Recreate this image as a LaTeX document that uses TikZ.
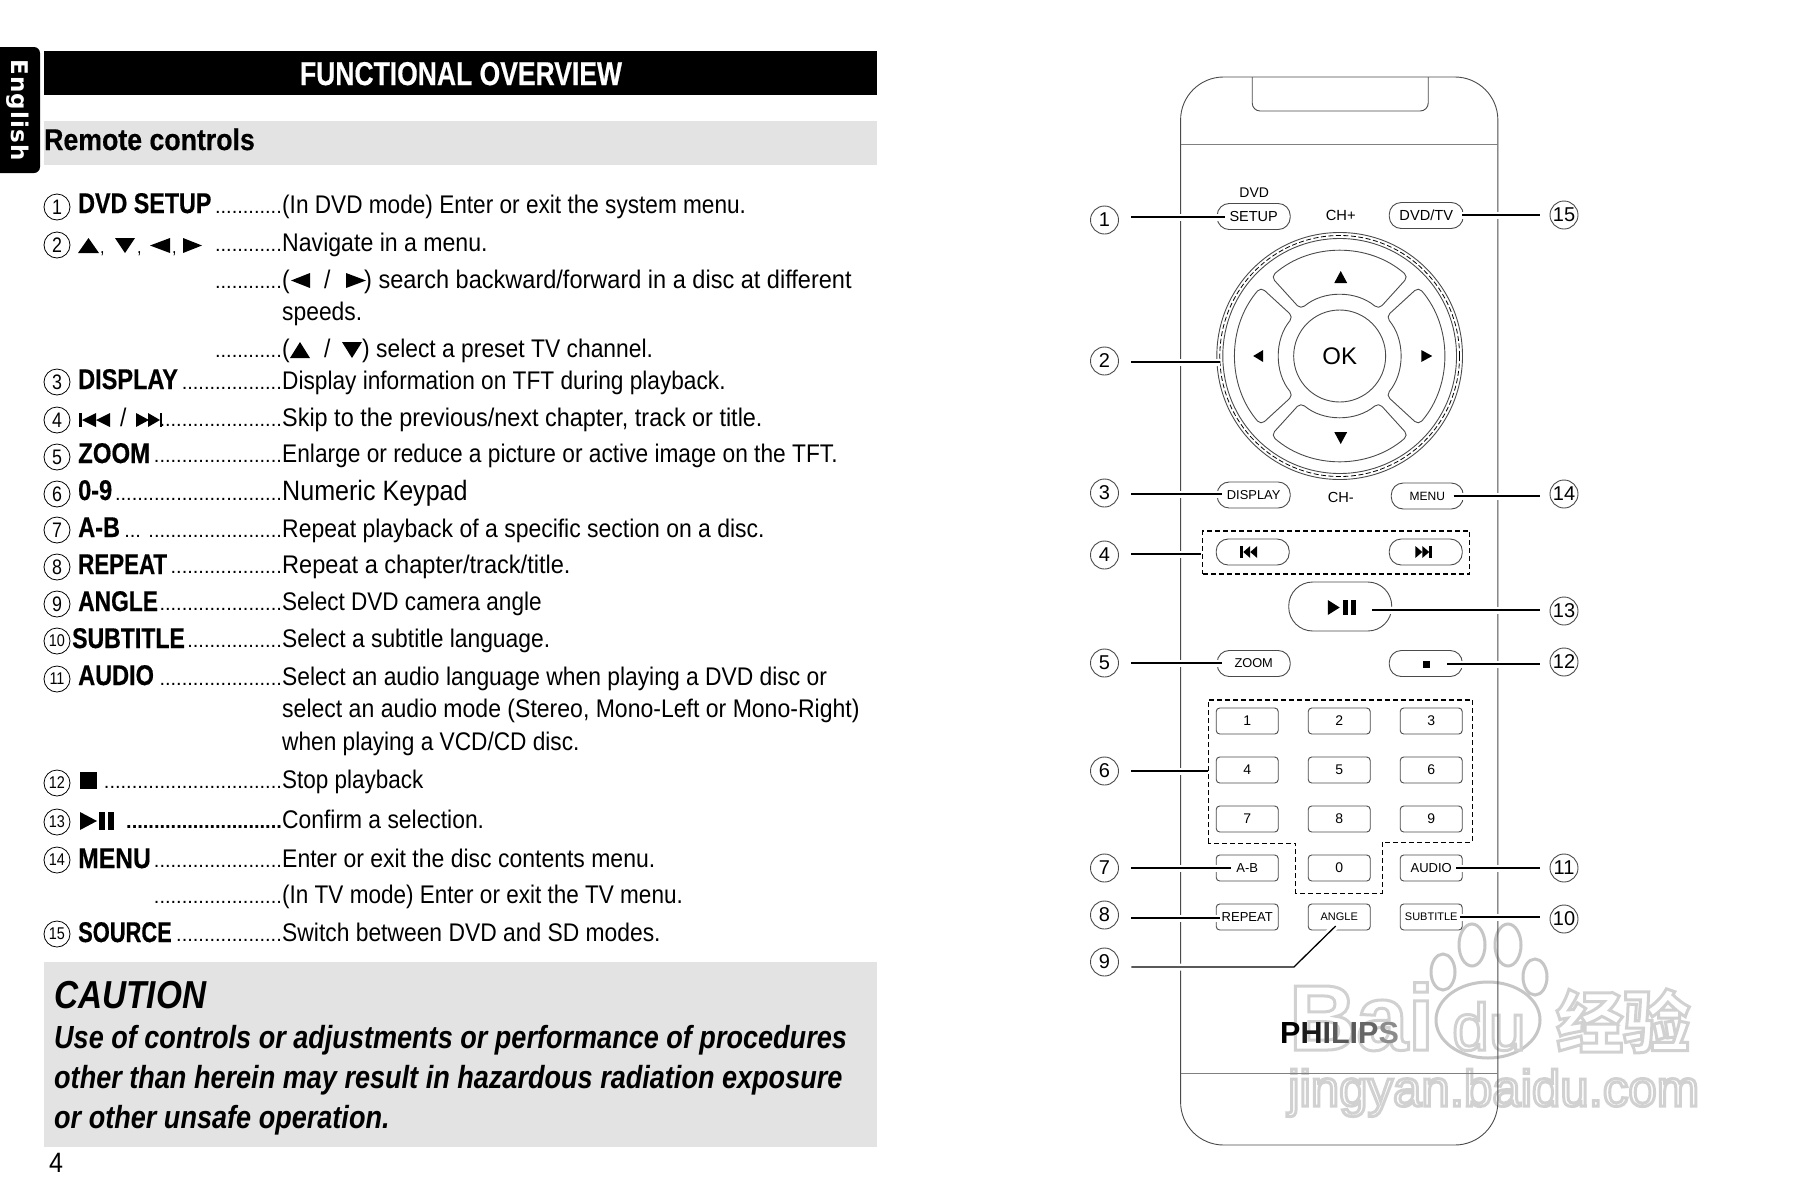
\documentclass[tikz,border=0pt]{standalone}
\usepackage{graphicx}
\usepackage{fontspec}
\setmainfont{Liberation Sans}
\newfontfamily\bodyf[FakeStretch=0.896]{Liberation Sans}
\newfontfamily\boldf[FakeStretch=0.825,BoldFeatures={FakeBold=0.5}]{Liberation Sans}
\newfontfamily\subf[FakeStretch=0.89,BoldFeatures={FakeBold=0.5}]{Liberation Sans}
\newfontfamily\headf[FakeStretch=0.828,BoldFeatures={FakeBold=0.5}]{Liberation Sans}
\newfontfamily\cautf[FakeStretch=0.855]{Liberation Sans}
\newfontfamily\cautbf[FakeStretch=0.846]{Liberation Sans}
\newfontfamily\narrowf[FakeStretch=0.85]{Liberation Sans}
\newfontfamily\tabf[LetterSpace=5]{DejaVu Sans}
\newfontfamily\cjkf{Noto Sans CJK SC}
\newcommand{\fs}[1]{\fontsize{#1}{#1}\selectfont}
\newcommand{\hs}[2]{\scalebox{#1}[1]{#2}}
\newcommand{\wmtxt}[1]{\special{pdf:code q 2 Tr 3 w 0.82 G 1 g}#1\special{pdf:code Q}}
\definecolor{barg}{HTML}{E3E3E3}
\definecolor{linec}{HTML}{4A4A4A}
\tikzset{
  bodytxt/.style={anchor=base west,inner sep=0pt,font=\bodyf\fs{25.5}},
  boldtxt/.style={anchor=base west,inner sep=0pt,font=\boldf\bfseries\fs{28.5}},
  dotstxt/.style={anchor=base east,inner sep=0pt,font=\fs{20}},
  lnum/.style={circle,draw,line width=0.8pt,minimum size=26pt,inner sep=0pt,font=\narrowf\fs{21}},
  lnumb/.style={lnum,font=\narrowf\fs{17}},
  rnum/.style={circle,draw=linec,line width=0.9pt,minimum size=28pt,inner sep=0pt,font=\fs{20}},
  pill/.style={draw=linec,line width=0.9pt,rounded corners=12pt,minimum width=73pt,minimum height=26pt,inner sep=0pt,font=\fs{13}},
  keyb/.style={draw=linec,line width=0.9pt,rounded corners=3.5pt,minimum width=62pt,minimum height=26pt,inner sep=0pt,font=\fs{14}},
  bodyline/.style={draw=linec,line width=0.9pt},
  lead/.style={draw=black,line width=1.3pt,preaction={draw=white,line width=7pt}},
  dashbox/.style={draw=black,line width=1.1pt,dash pattern=on 5pt off 3pt},
  wmark/.style={inner sep=0pt,anchor=base west},
  pawpart/.style={draw=gray!45,line width=3pt,fill=white}
}
\begin{document}
\begin{tikzpicture}[x=1pt,y=-1pt]
\useasboundingbox[fill=white] (0,0) rectangle (1808,1192);
% --- left page
\fill[rounded corners=6pt] (-10,47) rectangle (40,173);
\node[rotate=-90,text=white,inner sep=0pt,font=\tabf\bfseries\fs{23}] (tab) at (18,110) {English};
\fill[black] (44,51) rectangle (877,95);
\node[anchor=base,inner sep=0pt,text=white,font=\headf\bfseries\fs{33}] (title) at (461,85) {\hs{0.97}{FUNCTIONAL OVERVIEW}};
\fill[barg] (44,121) rectangle (877,165);
\node[anchor=base west,inner sep=0pt,font=\subf\bfseries\fs{30}] (sub) at (44,150) {Remote controls};
% rows
\node[lnum] (l1) at (57,207) {1};
\node[boldtxt] (b1) at (78,213) {\hs{0.99}{DVD SETUP}};
\node[dotstxt] (d1) at (282,213) {............};
\node[bodytxt] (t1) at (282,213) {\hs{0.99}{(In DVD mode) Enter or exit the system menu.}};
\node[lnum] (l2) at (57,245) {2};
\fill (78,253) -- (88.5,238) -- (99,253) -- cycle;
\fill (115,238) -- (135,238) -- (125,253) -- cycle;
\fill (170,238) -- (170,253) -- (150,245.5) -- cycle;
\fill (183,238) -- (183,253) -- (202,245.5) -- cycle;
\node[bodytxt,font=\bodyf\fs{18}] (cm1) at (100,253) {,};
\node[bodytxt,font=\bodyf\fs{18}] (cm2) at (137,253) {,};
\node[bodytxt,font=\bodyf\fs{18}] (cm3) at (172,253) {,};
\node[dotstxt] (d2) at (282,251) {............};
\node[bodytxt] (t2) at (282,251) {\hs{1.011}{Navigate in a menu.}};
\node[dotstxt] (d2b) at (282,288) {............};
\node[bodytxt] (t2b) at (282,288) {(};
\fill (310,273) -- (310,288) -- (291,280.5) -- cycle;
\node[bodytxt] (t2c) at (324,288) {/};
\fill (346,273) -- (346,288) -- (366,280.5) -- cycle;
\node[bodytxt] (t2d) at (364,288) {\hs{1.03}{) search backward/forward in a disc at different}};
\node[bodytxt] (t2e) at (282,320) {speeds.};
\node[dotstxt] (d2f) at (282,357) {............};
\node[bodytxt] (t2f) at (282,357) {(};
\fill (290,358) -- (300,342) -- (310,358) -- cycle;
\node[bodytxt] (t2g) at (324,357) {/};
\fill (342,342) -- (362,342) -- (352,358) -- cycle;
\node[bodytxt] (t2h) at (362,357) {) select a preset TV channel.};
\node[lnum] (l3) at (57,382) {3};
\node[boldtxt] (b3) at (78,389) {DISPLAY};
\node[dotstxt] (d3) at (282,389) {..................};
\node[bodytxt] (t3) at (282,389) {\hs{0.992}{Display information on TFT during playback.}};
\node[lnum] (l4) at (57,420) {4};
\fill (79,413) rectangle (81.5,427);
\fill (82,420) -- (96,413) -- (96,427) -- cycle;
\fill (96,420) -- (110,413) -- (110,427) -- cycle;
\node[boldtxt,font=\bodyf\fs{25.5}] (b4) at (120,426) {/};
\fill (136,413) -- (136,427) -- (149,420) -- cycle;
\fill (148,413) -- (148,427) -- (160,420) -- cycle;
\fill (160,413) rectangle (162,427);
\node[dotstxt] (d4) at (282,426) {......................};
\node[bodytxt] (t4) at (282,426) {\hs{1.025}{Skip to the previous/next chapter, track or title.}};
\node[lnum] (l5) at (57,457) {5};
\node[boldtxt] (b5) at (78,463) {\hs{1.02}{ZOOM}};
\node[dotstxt] (d5) at (282,462) {.......................};
\node[bodytxt] (t5) at (282,462) {\hs{0.994}{Enlarge or reduce a picture or active image on the TFT.}};
\node[lnum] (l6) at (57,494) {6};
\node[boldtxt] (b6) at (78,500) {0-9};
\node[dotstxt] (d6) at (282,500) {..............................};
\node[bodytxt,font=\bodyf\fs{28}] (t6) at (282,500) {Numeric Keypad};
\node[lnum] (l7) at (57,530) {7};
\node[boldtxt] (b7) at (78,537) {A-B};
\node[dotstxt] (d7) at (282,537) {... ........................};
\node[bodytxt] (t7) at (282,537) {\hs{1.005}{Repeat playback of a specific section on a disc.}};
\node[lnum] (l8) at (57,567) {8};
\node[boldtxt] (b8) at (78,574) {\hs{0.95}{REPEAT}};
\node[dotstxt] (d8) at (282,573) {....................};
\node[bodytxt] (t8) at (282,573) {\hs{1.032}{Repeat a chapter/track/title.}};
\node[lnum] (l9) at (57,604) {9};
\node[boldtxt] (b9) at (78,611) {\hs{0.97}{ANGLE}};
\node[dotstxt] (d9) at (282,610) {......................};
\node[bodytxt] (t9) at (282,610) {\hs{0.987}{Select DVD camera angle}};
\node[lnumb] (l10) at (57,641) {10};
\node[boldtxt] (b10) at (72,648) {\hs{0.98}{SUBTITLE}};
\node[dotstxt] (d10) at (282,647) {.................};
\node[bodytxt] (t10) at (282,647) {\hs{1.0}{Select a subtitle language.}};
\node[lnumb] (l11) at (57,679) {11};
\node[boldtxt] (b11) at (78,685) {AUDIO};
\node[dotstxt] (d11) at (282,685) {......................};
\node[bodytxt] (t11) at (282,685) {Select an audio language when playing a DVD disc or};
\node[bodytxt] (t11b) at (282,717) {\hs{1.008}{select an audio mode (Stereo, Mono-Left or Mono-Right)}};
\node[bodytxt] (t11c) at (282,750) {\hs{0.992}{when playing a VCD/CD disc.}};
\node[lnumb] (l12) at (57,783) {12};
\fill (80,772) rectangle (97,789);
\node[dotstxt] (d12) at (282,788) {................................};
\node[bodytxt] (t12) at (282,788) {\hs{0.984}{Stop playback}};
\node[lnumb] (l13) at (57,822) {13};
\fill (80,812) -- (80,830) -- (97,821) -- cycle;
\fill (99,812) rectangle (105,830);
\fill (108,812) rectangle (114,830);
\node[dotstxt,font=\bfseries\fs{20}] (d13) at (282,828) {............................};
\node[bodytxt] (t13) at (282,828) {Confirm a selection.};
\node[lnumb] (l14) at (57,860) {14};
\node[boldtxt] (b14) at (78,868) {\hs{1.05}{MENU}};
\node[dotstxt] (d14) at (282,867) {.......................};
\node[bodytxt] (t14) at (282,867) {\hs{1.006}{Enter or exit the disc contents menu.}};
\node[dotstxt] (d14b) at (282,903) {.......................};
\node[bodytxt] (t14b) at (282,903) {\hs{0.986}{(In TV mode) Enter or exit the TV menu.}};
\node[lnumb] (l15) at (57,934) {15};
\node[boldtxt] (b15) at (78,942) {\hs{0.93}{SOURCE}};
\node[dotstxt] (d15) at (282,941) {...................};
\node[bodytxt] (t15) at (282,941) {Switch between DVD and SD modes.};
% caution
\fill[barg] (44,962) rectangle (877,1147);
\node[anchor=base west,inner sep=0pt,font=\cautf\bfseries\itshape\fs{39}] (caut) at (54,1008) {CAUTION};
\node[anchor=base west,inner sep=0pt,font=\cautbf\bfseries\itshape\fs{32}] (c1t) at (54,1048) {Use of controls or adjustments or performance of procedures};
\node[anchor=base west,inner sep=0pt,font=\cautbf\bfseries\itshape\fs{32}] (c2t) at (54,1088) {other than herein may result in hazardous radiation exposure};
\node[anchor=base west,inner sep=0pt,font=\cautbf\bfseries\itshape\fs{32}] (c3t) at (54,1128) {or other unsafe operation.};
\node[anchor=base west,inner sep=0pt,font=\bodyf\fs{28}] (pg) at (49,1172) {4};
% --- watermark (under the drawing)
\draw[pawpart] (1472,945) ellipse[x radius=13,y radius=21];
\draw[pawpart] (1508,945) ellipse[x radius=13,y radius=21];
\draw[pawpart] (1443,972) ellipse[x radius=12,y radius=18];
\draw[pawpart] (1535,977) ellipse[x radius=12,y radius=18];
\draw[pawpart] (1488,1020) ellipse[x radius=52,y radius=38];
\node[wmark,font=\bfseries\fs{93}] (wm1) at (1289,1050) {\wmtxt{Bai}};
\node[wmark,font=\fs{66}] (wm2) at (1452,1050) {\wmtxt{du}};
\node[wmark,font=\cjkf\bfseries\fs{67}] (wm3) at (1556,1047) {\wmtxt{经验}};
\node[wmark,font=\fs{51}] (wm4) at (1288,1106) {\wmtxt{jingyan.baidu.com}};
% --- remote
\begin{scope}[shift={(1104,0)},xscale=0.9946,shift={(-1104,0)}]
\draw[bodyline,rounded corners=43pt] (1181,77) rectangle (1500,1145);
\draw[bodyline,rounded corners=8pt] (1253,77) -- (1253,111) -- (1430,111) -- (1430,77);
\draw[bodyline,draw=gray] (1181,144) -- (1500,144);
\draw[bodyline,draw=gray] (1181,1073) -- (1500,1073);
% d-pad
\coordinate (pad) at (1341,356);
\draw[bodyline] (pad) circle[radius=123.5];
\draw[draw=black,line width=0.8pt,dash pattern=on 5pt off 2.5pt] (pad) circle[radius=120.5];
\draw[bodyline] (pad) circle[radius=117.5];
\foreach \r in {0,90,180,270}{
  \begin{scope}[shift={(pad)},rotate=\r]
    \draw[bodyline,rounded corners=5pt] (229:105) arc[start angle=229,end angle=311,radius=105] -- (310:61) arc[start angle=310,end angle=230,radius=61] -- cycle;
  \end{scope}
}
\node[circle,draw=linec,line width=0.9pt,minimum size=92pt,inner sep=0pt,font=\fs{24}] (ok) at (pad) {OK};
\fill (1335.5,283) -- (1348.5,283) -- (1342,271) -- cycle;
\fill (1335.5,432) -- (1348.5,432) -- (1342,444) -- cycle;
\fill (1264,350) -- (1264,362) -- (1254,356) -- cycle;
\fill (1423,350) -- (1423,362) -- (1434,356) -- cycle;
% buttons
\node[inner sep=0pt,font=\fs{14}] (dvdl) at (1255,193) {DVD};
\node[pill,font=\fs{14.5}] (setup) at (1254.5,216.5) {SETUP};
\node[inner sep=0pt,font=\fs{14.7}] (chp) at (1342,215) {CH+};
\node[pill,font=\fs{14.6},minimum width=74pt] (dvdtv) at (1428,215.5) {DVD/TV};
\node[pill,font=\fs{12.9}] (disp) at (1254.5,495) {DISPLAY};
\node[inner sep=0pt,font=\fs{14.6}] (chm) at (1342,497) {CH-};
\node[pill,font=\fs{12},minimum width=72pt] (menu) at (1429,496) {MENU};
\node[dashbox,rectangle,minimum width=267pt,minimum height=43pt,inner sep=0pt] (grp4) at (1337.5,552.5) {};
\node[pill] (prev) at (1253.5,552) {};
\fill (1241,546) rectangle (1243.5,558);
\fill (1244,552) -- (1251,546) -- (1251,558) -- cycle;
\fill (1251,552) -- (1258,546) -- (1258,558) -- cycle;
\node[pill] (next) at (1427.5,552) {};
\fill (1417,546) -- (1424,552) -- (1417,558) -- cycle;
\fill (1424,546) -- (1431,552) -- (1424,558) -- cycle;
\fill (1431,546) rectangle (1433.5,558);
\node[pill,rounded corners=24pt,minimum width=103pt,minimum height=49pt] (play) at (1341.5,606.5) {};
\fill (1329,600) -- (1329,615) -- (1341,607.5) -- cycle;
\fill (1344,600) rectangle (1349,615);
\fill (1352,600) rectangle (1357,615);
\node[pill,font=\fs{12.8}] (zoom) at (1254.5,663.5) {ZOOM};
\node[pill] (stop) at (1427.5,663.5) {};
\fill (1425,661) rectangle (1431.5,668);
\draw[dashbox,line width=1.6pt] (1209,843) -- (1209,700) -- (1474,700);
\draw[dashbox,line width=1pt] (1474,700) -- (1474,842) -- (1384,842) -- (1384,893) -- (1297,893) -- (1297,843) -- (1209,843);
\node[keyb] (k1) at (1248,721) {1};
\node[keyb] (k2) at (1340.5,721) {2};
\node[keyb] (k3) at (1433,721) {3};
\node[keyb] (k4) at (1248,770) {4};
\node[keyb] (k5) at (1340.5,770) {5};
\node[keyb] (k6) at (1433,770) {6};
\node[keyb] (k7) at (1248,819) {7};
\node[keyb] (k8) at (1340.5,819) {8};
\node[keyb] (k9) at (1433,819) {9};
\node[keyb,font=\fs{13}] (kab) at (1248,868) {A-B};
\node[keyb] (k0) at (1340.5,868) {0};
\node[keyb,font=\fs{13}] (kaud) at (1433,868) {AUDIO};
\node[keyb,font=\fs{13}] (krep) at (1248,917) {REPEAT};
\node[keyb,font=\fs{11}] (kang) at (1340.5,917) {ANGLE};
\node[keyb,font=\fs{11}] (ksub) at (1433,917) {SUBTITLE};
% callouts
\node[rnum] (c1) at (1104.5,220) {1};
\node[rnum] (c2) at (1104.5,361) {2};
\node[rnum] (c3) at (1104.5,493) {3};
\node[rnum] (c4) at (1104.5,555) {4};
\node[rnum] (c5) at (1104.5,663) {5};
\node[rnum] (c6) at (1104.5,771) {6};
\node[rnum] (c7) at (1104.5,868) {7};
\node[rnum] (c8) at (1104.5,915) {8};
\node[rnum] (c9) at (1104.5,962) {9};
\node[rnum] (c15) at (1566.5,215) {15};
\node[rnum] (c14) at (1566.5,494) {14};
\node[rnum] (c13) at (1566.5,611) {13};
\node[rnum] (c12) at (1566.5,662) {12};
\node[rnum] (c11) at (1566.5,868) {11};
\node[rnum] (c10) at (1566.5,919) {10};
\coordinate (e1) at (1226,217);
\coordinate (e2) at (1221,362);
\coordinate (e3) at (1223,494);
\coordinate (e4) at (1202,554);
\coordinate (e5) at (1223,663);
\coordinate (e6) at (1209,771);
\coordinate (e7) at (1232,868);
\coordinate (e8) at (1221,918);
\coordinate (e9a) at (1295,967);
\coordinate (e9b) at (1337,926);
\coordinate (e15) at (1464,215);
\coordinate (e14) at (1455.5,496);
\coordinate (e13) at (1374,610);
\coordinate (e12) at (1449,664);
\coordinate (e11) at (1458,868);
\coordinate (e10) at (1462,917);
\draw[lead] ([xshift=12.5pt]c1.east |- e1) -- (e1);
\draw[lead] ([xshift=12.5pt]c2.east |- e2) -- (e2);
\draw[lead] ([xshift=12.5pt]c3.east |- e3) -- (e3);
\draw[lead] ([xshift=12.5pt]c4.east |- e4) -- (e4);
\draw[lead] ([xshift=12.5pt]c5.east |- e5) -- (e5);
\draw[lead] ([xshift=12.5pt]c6.east |- e6) -- (e6);
\draw[lead] ([xshift=12.5pt]c7.east |- e7) -- (e7);
\draw[lead] ([xshift=12.5pt]c8.east |- e8) -- (e8);
\draw[lead] ([xshift=12.5pt]c9.east |- e9a) -- (e9a) -- (e9b);
\draw[lead] (e15) -- ([xshift=-9.5pt]c15.west |- e15);
\draw[lead] (e14) -- ([xshift=-9.5pt]c14.west |- e14);
\draw[lead] (e13) -- ([xshift=-9.5pt]c13.west |- e13);
\draw[lead] (e12) -- ([xshift=-9.5pt]c12.west |- e12);
\draw[lead] (e11) -- ([xshift=-9.5pt]c11.west |- e11);
\draw[lead] (e10) -- ([xshift=-9.5pt]c10.west |- e10);
\end{scope}
\node[inner sep=0pt,font=\bfseries\fs{30.5},anchor=base west] (phil) at (1280,1043) {P\textcolor{black!90}{H}\textcolor{black!75}{I}\textcolor{black!65}{L}\textcolor{black!65}{I}\textcolor{black!60}{P}\textcolor{black!45}{S}};
\end{tikzpicture}
\end{document}
